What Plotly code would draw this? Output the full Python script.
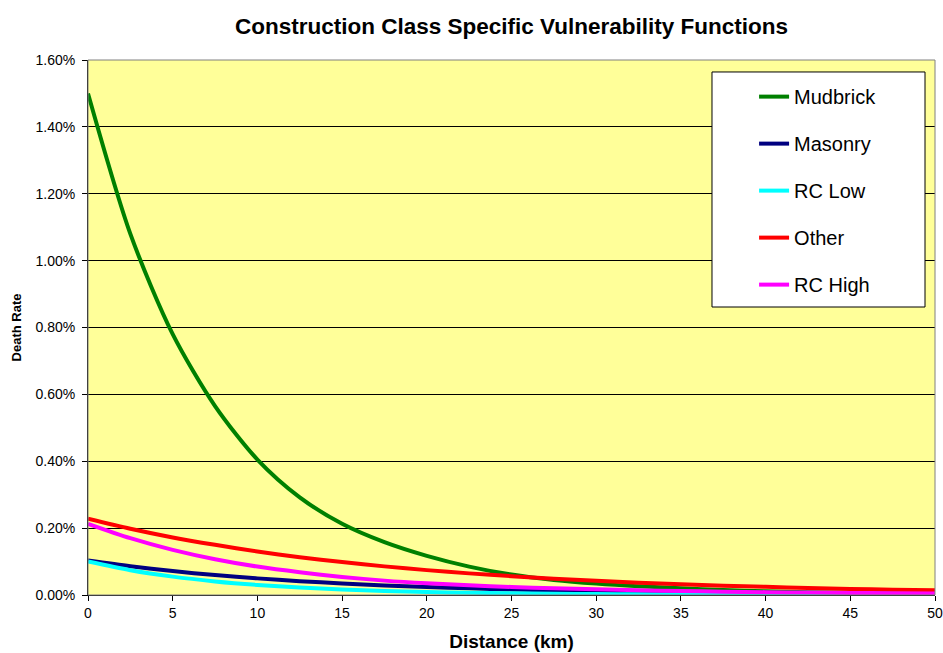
import plotly.graph_objects as go

distance_km = [0, 2.5, 5, 7.5, 10, 12.5, 15, 17.5, 20, 22.5, 25, 27.5, 30,
               32.5, 35, 37.5, 40, 42.5, 45, 47.5, 50]

# Death rate in percent
mudbrick = [1.500, 1.080, 0.780, 0.565, 0.405, 0.292, 0.213, 0.158, 0.117, 0.085,
            0.061, 0.045, 0.034, 0.026, 0.020, 0.015, 0.011, 0.0085, 0.0065, 0.005, 0.004]
masonry = [0.103, 0.0858, 0.0715, 0.0596, 0.0497, 0.0414, 0.0345, 0.0287, 0.0239, 0.0199,
           0.0166, 0.0138, 0.0115, 0.0096, 0.0080, 0.0067, 0.0056, 0.0046, 0.0039, 0.0032, 0.0027]
rc_low = [0.100, 0.0741, 0.0549, 0.0407, 0.0301, 0.0223, 0.0165, 0.0122, 0.0091, 0.0067,
          0.0050, 0.0037, 0.0027, 0.0020, 0.0015, 0.0011, 0.0008, 0.0006, 0.00045, 0.0003, 0.00025]
other = [0.228, 0.198, 0.172, 0.150, 0.130, 0.113, 0.0985, 0.0856, 0.0744, 0.0647,
         0.0563, 0.0489, 0.0425, 0.0369, 0.0321, 0.0279, 0.0243, 0.0211, 0.0183, 0.0160, 0.0139]
rc_high = [0.213, 0.170, 0.135, 0.107, 0.085, 0.068, 0.054, 0.043, 0.035, 0.029,
           0.024, 0.020, 0.017, 0.014, 0.012, 0.010, 0.0085, 0.0072, 0.0062, 0.0053, 0.0045]

series_names = ["Mudbrick", "Masonry", "RC Low", "Other", "RC High"]
series_values = [mudbrick, masonry, rc_low, other, rc_high]
series_colors = ["#008000", "#000080", "#00FFFF", "#FF0000", "#FF00FF"]

x_ticks = [0, 5, 10, 15, 20, 25, 30, 35, 40, 45, 50]
y_ticks = [0.0, 0.2, 0.4, 0.6, 0.8, 1.0, 1.2, 1.4, 1.6]

FONT = "Arial, Liberation Sans, sans-serif"

fig = go.Figure()
for i, (name, vals, col) in enumerate(zip(series_names, series_values, series_colors)):
    fig.add_trace(go.Scatter(
        x=distance_km, y=vals, name=name, mode="lines",
        line=dict(color=col, width=4, shape="spline", smoothing=0.8),
        legendgroup=f"g{i}",
    ))

fig.update_layout(
    width=943, height=653,
    margin=dict(l=88, r=8, t=60, b=58, autoexpand=False),
    paper_bgcolor="white",
    plot_bgcolor="#FFFF99",
    font=dict(family=FONT, color="black"),
    title=dict(text="<b>Construction Class Specific Vulnerability Functions</b>",
               x=0.5, xref="paper", xanchor="center", y=0.96, yanchor="middle",
               font=dict(size=22.5, family=FONT, color="black")),
    showlegend=True,
    legend=dict(x=0.7864, xanchor="left", y=0.968, yanchor="top",
                bgcolor="rgba(0,0,0,0)", borderwidth=0,
                font=dict(size=20, family=FONT, color="black"),
                tracegroupgap=18, itemwidth=30),
    shapes=[
        dict(type="rect", xref="paper", yref="paper", x0=0, x1=1, y0=0, y1=1,
             line=dict(color="#808080", width=1), fillcolor="rgba(0,0,0,0)", layer="above"),
        dict(type="rect", xref="paper", yref="paper", x0=0.7367, x1=0.9882, y0=0.5383, y1=0.9776,
             line=dict(color="black", width=1), fillcolor="white", layer="above"),
    ],
)

fig.update_xaxes(
    range=[0, 50], tickvals=x_ticks, ticktext=[str(v) for v in x_ticks],
    showgrid=False, zeroline=False, automargin=False,
    showline=True, linecolor="black", linewidth=1,
    ticks="outside", ticklen=5, tickcolor="black",
    tickfont=dict(size=14, family=FONT, color="black"),
    title=dict(text="<b>Distance (km)</b>", font=dict(size=19, family=FONT, color="black"), standoff=14),
)
fig.update_yaxes(
    range=[0, 1.6], tickvals=y_ticks, ticktext=[f"{v:.2f}%" for v in y_ticks],
    showgrid=True, gridcolor="black", gridwidth=1, zeroline=False, automargin=False,
    showline=True, linecolor="black", linewidth=1,
    ticks="outside", ticklen=5, tickcolor="black", ticklabelstandoff=4,
    tickfont=dict(size=14, family=FONT, color="black"),
    title=dict(text="<b>Death Rate</b>", font=dict(size=13, family=FONT, color="black"), standoff=10),
)

fig.write_html("out.html",
               config={"displayModeBar": False},
               post_script="document.body.style.margin='0';document.body.style.padding='0';")
